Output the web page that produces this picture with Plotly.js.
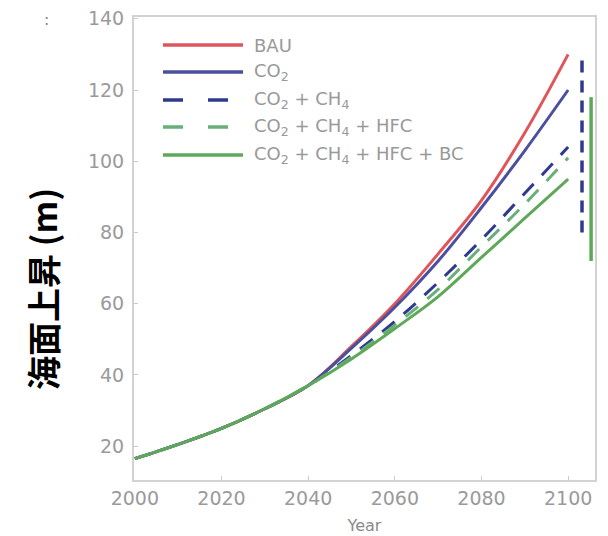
<!DOCTYPE html>
<html><head><meta charset="utf-8">
<script src="https://cdn.plot.ly/plotly-3.0.1.min.js"></script>
<style>html,body{margin:0;padding:0;background:#fff}#c{width:608px;height:536px}</style>
</head><body><div id="c"></div>
<script>
const years = [2000, 2010, 2020, 2030, 2040, 2050, 2060, 2070, 2080, 2090, 2100];
const bau      = [16.5, 20.5, 25, 30.5, 37, 48, 60, 74, 89, 108, 130];
const co2      = [16.5, 20.5, 25, 30.5, 37, 47.5, 59, 72, 87, 103, 120];
const co2ch4   = [16.5, 20.5, 25, 30.5, 37, 45.5, 55, 66, 78, 91, 104];
const co2ch4hfc= [16.5, 20.5, 25, 30.5, 37, 45, 54, 64, 76, 88, 101];
const allfour  = [16.5, 20.5, 25, 30.5, 37, 44.5, 53, 62, 73, 84, 95];
const rangeCH4x = [2103.2, 2103.2];
const rangeCH4y = [80, 130.5];
const rangeAllx = [2105.3, 2105.3];
const rangeAlly = [72, 118];
const names = ['BAU', 'CO<sub>2</sub>', 'CO<sub>2</sub> + CH<sub>4</sub>', 'CO<sub>2</sub> + CH<sub>4</sub> + HFC', 'CO<sub>2</sub> + CH<sub>4</sub> + HFC + BC'];
const xTicks = [2000, 2020, 2040, 2060, 2080, 2100];
const yTicks = [20, 40, 60, 80, 100, 120, 140];
const yTitle = '海面上昇 (m)';
const xTitle = 'Year';

const cRed = '#e0555a', cBlue = '#4b4f9e', cNavy = '#2f3a8f', cGdash = '#6aae7a', cGreen = '#5ea85a';
const styles = [
  {color: cRed, width: 3, dash: 'solid'},
  {color: cBlue, width: 3, dash: 'solid'},
  {color: cNavy, width: 3, dash: '16px,12px'},
  {color: cGdash, width: 3, dash: '16px,12px'},
  {color: cGreen, width: 3, dash: 'solid'}
];
const series = [bau, co2, co2ch4, co2ch4hfc, allfour];
const traces = series.map((s, i) => ({
  x: years, y: s, name: names[i], mode: 'lines', showlegend: false,
  line: Object.assign({shape: 'spline'}, styles[i])
}));
traces.push({x: rangeCH4x, y: rangeCH4y, mode: 'lines', showlegend: false, line: {color: cNavy, width: 3.5, dash: '12px,8px'}});
traces.push({x: rangeAllx, y: rangeAlly, mode: 'lines', showlegend: false, line: {color: cGreen, width: 3.5}});

// custom legend (paper coordinates)
const L = 134, R = 595, T = 17, B = 480;
const px = v => (v - L) / (R - L);
const py = v => (B - v) / (B - T);
const rowY = [45, 72, 100, 127, 155];
const legDash = ['solid', 'solid', '20px,25px', '20px,25px', 'solid'];
const shapes = rowY.map((yy, i) => ({
  type: 'line', xref: 'paper', yref: 'paper', x0: px(163), x1: px(243), y0: py(yy), y1: py(yy),
  line: {color: styles[i].color, width: 3.5, dash: legDash[i]}
}));
const annotations = rowY.map((yy, i) => ({
  xref: 'paper', yref: 'paper', x: px(252), y: py(yy), xanchor: 'left', yanchor: 'middle',
  text: names[i], showarrow: false, font: {size: 18, color: '#999', family: '"DejaVu Sans", sans-serif'}
}));
annotations.push({xref: 'paper', yref: 'paper', x: px(42), y: py(289), textangle: -90,
  xanchor: 'center', yanchor: 'middle', showarrow: false, text: '<b>' + yTitle + '</b>',
  font: {size: 34, color: '#000', family: '"Noto Sans CJK JP", sans-serif'}});
annotations.push({xref: 'paper', yref: 'paper', x: px(42), y: py(8), showarrow: false, text: ':',
  font: {size: 16, color: '#888', family: '"DejaVu Sans", sans-serif'}});

const layout = {
  width: 608, height: 536,
  margin: {l: L, r: 608 - R, t: T, b: 536 - B},
  paper_bgcolor: '#fff', plot_bgcolor: '#fff',
  font: {family: '"DejaVu Sans", sans-serif', color: '#999'},
  showlegend: false,
  xaxis: {range: [1999.8, 2106.2], tickvals: xTicks, ticks: 'inside', ticklen: 4, tickcolor: '#ccc',
          showgrid: false, zeroline: false, showline: true, linecolor: '#d2d2d2', linewidth: 2, mirror: true,
          tickfont: {size: 19, color: '#9a9a9a'},
          title: {text: xTitle, font: {size: 16, color: '#8a8a8a'}, standoff: 12}},
  yaxis: {range: [10.5, 140.5], tickvals: yTicks, ticks: 'inside', ticklen: 4, tickcolor: '#ccc',
          showgrid: false, zeroline: false, showline: true, linecolor: '#d2d2d2', linewidth: 2, mirror: true,
          ticklabelstandoff: 4,
          tickfont: {size: 19, color: '#9a9a9a'}},
  shapes: shapes,
  annotations: annotations
};
Plotly.newPlot('c', traces, layout, {displayModeBar: false, staticPlot: true});
</script></body></html>
